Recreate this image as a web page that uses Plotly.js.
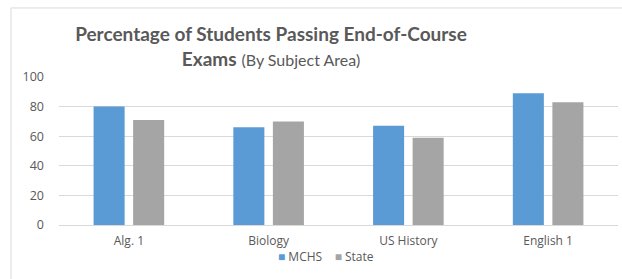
<!DOCTYPE html>
<html>
<head>
<meta charset="utf-8">
<script src="https://cdn.plot.ly/plotly-3.0.1.min.js"></script>
<style>html,body{margin:0;padding:0;background:#fff;}#chart{width:622px;height:279px;}</style>
</head>
<body>
<div id="chart"></div>
<script>
const categories = ["Alg. 1", "Biology", "US History", "English 1"];
const mchsValues = [80, 66, 67, 89];
const stateValues = [71, 70, 59, 83];
const seriesNames = ["MCHS", "State"];
const seriesColors = ["#5B9BD5", "#A5A5A5"];
const yTicks = [0, 20, 40, 60, 80, 100];

const traces = [
  {type: "bar", name: seriesNames[0], x: categories, y: mchsValues, marker: {color: seriesColors[0]}, hoverinfo: "none"},
  {type: "bar", name: seriesNames[1], x: categories, y: stateValues, marker: {color: seriesColors[1]}, hoverinfo: "none"}
];

const legendText = seriesNames.map((n, i) =>
  "<span style='color:" + seriesColors[i] + "'>■</span>&nbsp;" + n).join("&nbsp;&nbsp;&nbsp;&nbsp;");

const layout = {
  width: 622, height: 279,
  margin: {l: 59, r: 4, t: 76.5, b: 53.5},
  paper_bgcolor: "#fff", plot_bgcolor: "#fff",
  font: {family: "'Open Sans', sans-serif", color: "#595959", size: 12},
  barmode: "group", bargap: 0.434, bargroupgap: 0.215,
  showlegend: false,
  title: {
    text: "<b>Percentage of Students Passing End-of-Course</b><br><b>Exams</b> <span style='font-size:16px'>(By Subject Area)</span>",
    font: {family: "Lato, 'Open Sans', sans-serif", size: 19, color: "#595959"},
    x: 271/622, xanchor: "center", xref: "container",
    y: 1 - 41/279, yanchor: "top", yref: "container"
  },
  xaxis: {
    showgrid: false, showline: true, linecolor: "#D9D9D9", linewidth: 1,
    ticks: "", ticklabelstandoff: 5, tickfont: {size: 12, color: "#595959"}, fixedrange: true
  },
  yaxis: {
    range: [0, 100], tickvals: yTicks, showgrid: true, gridcolor: "#D9D9D9", gridwidth: 1,
    zeroline: false, showline: false, ticks: "", ticklabelstandoff: 14,
    tickfont: {size: 12.5, color: "#595959"}, fixedrange: true
  },
  annotations: [
    {xref: "paper", yref: "paper", x: (326-59)/559, y: (225.5-257.5)/149, xanchor: "center", yanchor: "middle",
     text: legendText, showarrow: false, font: {size: 12, color: "#595959"}}
  ],
  shapes: [
    {type: "rect", xref: "paper", yref: "paper", x0: (11-59)/559, x1: 1.2, y0: -0.5, y1: (225.5-7)/149,
     line: {color: "#D9D9D9", width: 1}, fillcolor: "rgba(0,0,0,0)", layer: "below"}
  ]
};

Plotly.newPlot("chart", traces, layout, {staticPlot: true, displayModeBar: false});
</script>
</body>
</html>
